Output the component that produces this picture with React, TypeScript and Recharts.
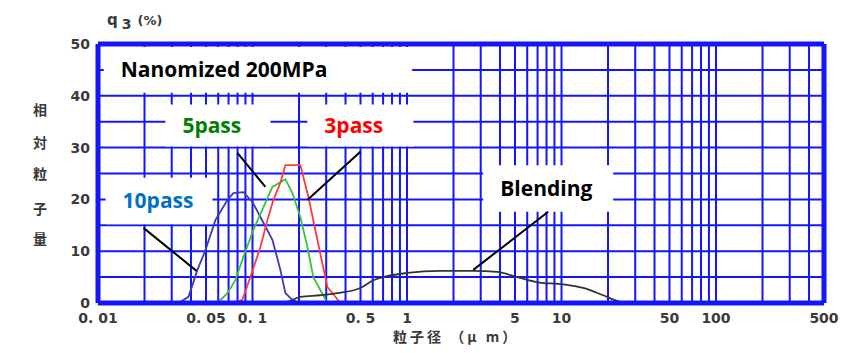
import React from 'react';
import {
    LineChart,
    Line,
    XAxis,
    YAxis,
    ReferenceLine,
    ReferenceArea,
} from 'recharts';

// particle size (µm) / q3 (%)
const tenPassSize = [0.0332, 0.0385, 0.0409, 0.044, 0.0496, 0.0575, 0.0688, 0.0752, 0.0873, 0.0999, 0.1125, 0.1345, 0.1515, 0.1633, 0.1812, 0.2];
const tenPassQ = [0, 1.2, 3.5, 6.4, 10.2, 16.0, 19.9, 21.2, 21.4, 19.5, 16.6, 12.2, 6.4, 1.9, 0.6, 0];

const fivePassSize = [0.0332, 0.0593, 0.0688, 0.0775, 0.0873, 0.1013, 0.1177, 0.1345, 0.1633, 0.1812, 0.2041, 0.2265, 0.2477, 0.2749, 0.3051];
const fivePassQ = [0, 0, 1.9, 4.4, 8.9, 14.1, 18.5, 22.4, 23.9, 21.2, 16.6, 10.8, 5.0, 2.5, 0];

const threePassSize = [0.0593, 0.075, 0.086, 0.0969, 0.1125, 0.1249, 0.1365, 0.1515, 0.1633, 0.2041, 0.23, 0.2629, 0.3051, 0.3703];
const threePassQ = [0, 0, 0.6, 5.0, 10.8, 16.0, 19.9, 23.2, 26.6, 26.6, 20.5, 12.2, 3.1, 0];

const blendSize = [0.06, 0.15, 0.1682, 0.2041, 0.2749, 0.3541, 0.4989, 0.6053, 0.7025, 1.004, 1.642, 2.685, 3.838, 5.17, 6.96, 10.26, 13.82, 18.6, 23.97, 26];
const blendQ = [0, 0, 0.2, 1.2, 1.5, 1.9, 2.9, 4.4, 5.0, 5.8, 6.2, 6.2, 6.0, 5.0, 4.0, 3.6, 2.9, 1.5, 0.2, 0];

const xTicks = [0.01, 0.05, 0.1, 0.5, 1, 5, 10, 50, 100, 500];
const xTickLabels = ['0. 01', '0. 05', '0. 1', '0. 5', '1', '5', '10', '50', '100', '500'];
const yTicks = [0, 10, 20, 30, 40, 50];

// log grid: every 1..9 step inside each decade
const decades = [0.01, 0.1, 1, 10, 100];
const gridX = decades
    .flatMap((d) => [1, 2, 3, 4, 5, 6, 7, 8, 9].map((m) => +(d * m).toPrecision(3)))
    .filter((v) => v > 0.01 && v < 500);
const gridY = [5, 10, 15, 20, 25, 30, 35, 40, 45];

// callout boxes + leader lines
const callouts = [
    { text: 'Nanomized 200MPa', color: '#000000', x1: 0.0109, x2: 1.08, y1: 40.6, y2: 49.4, from: null, to: null },
    { text: '5pass', color: '#008000', x1: 0.0273, x2: 0.1306, y1: 30.2, y2: 38.3, from: [0.0798, 29.0], to: [0.1212, 22.4] },
    { text: '3pass', color: '#ff0000', x1: 0.2265, x2: 1.1, y1: 30.2, y2: 38.3, from: [0.4989, 29.2], to: [0.2265, 19.9] },
    { text: '10pass', color: '#0070c0', x1: 0.0112, x2: 0.0551, y1: 15.2, y2: 24.2, from: [0.0197, 14.5], to: [0.0434, 6.2] },
    { text: 'Blending', color: '#000000', x1: 3.115, x2: 21.6, y1: 17.6, y2: 26.6, from: [8.2, 17.6], to: [2.685, 6.4] },
];

const zip = (xs: number[], ys: number[]) => xs.map((x, i) => ({ x, q: ys[i] }));

const series = [
    { name: '10pass', data: zip(tenPassSize, tenPassQ), color: '#3c3cb4', type: 'linear' },
    { name: '5pass', data: zip(fivePassSize, fivePassQ), color: '#3cc03c', type: 'linear' },
    { name: '3pass', data: zip(threePassSize, threePassQ), color: '#ff3c3c', type: 'linear' },
    { name: 'Blending', data: zip(blendSize, blendQ), color: '#333333', type: 'monotone' },
];

const BLUE = '#1414ff';
const tickStyle = { fontFamily: 'DejaVu Sans', fontWeight: 700, fontSize: 14, fill: '#3a3a3a' };
const yTitle = ['相', '対', '粒', '子', '量'];
const yTitleTop = [100, 133, 164, 199, 229];

export default function App() {
    return (
        <div style={{ position: 'relative', width: 845, height: 337, fontFamily: 'DejaVu Sans' }}>
            <LineChart width={845} height={337} margin={{ top: 36, right: 29, bottom: 12, left: 50 }}>
                <XAxis
                    dataKey="x"
                    type="number"
                    scale="log"
                    domain={[0.01, 500]}
                    ticks={xTicks}
                    allowDataOverflow
                    height={30}
                    axisLine={false}
                    tickLine={false}
                    tickSize={8}
                    tickMargin={2}
                    tick={tickStyle}
                    tickFormatter={(v: number) => xTickLabels[xTicks.indexOf(v)] ?? String(v)}
                    interval={0}
                />
                <YAxis
                    dataKey="q"
                    type="number"
                    domain={[0, 50]}
                    ticks={yTicks}
                    width={40}
                    axisLine={false}
                    tickLine={false}
                    tickSize={6}
                    tickMargin={2}
                    tick={tickStyle}
                    interval={0}
                />
                {gridX.map((v) => (
                    <ReferenceLine key={'gx' + v} x={v} stroke={BLUE} strokeWidth={2} zIndex={-50} />
                ))}
                {gridY.map((v) => (
                    <ReferenceLine key={'gy' + v} y={v} stroke={BLUE} strokeWidth={2} zIndex={-50} />
                ))}
                {series.map((s) => (
                    <Line
                        key={s.name}
                        data={s.data}
                        dataKey="q"
                        type={s.type as any}
                        stroke={s.color}
                        strokeWidth={1.8}
                        dot={false}
                        isAnimationActive={false}
                    />
                ))}
                {callouts.map((c) => (
                    <ReferenceArea
                        key={'box' + c.text}
                        x1={c.x1}
                        x2={c.x2}
                        y1={c.y1}
                        y2={c.y2}
                        fill="#ffffff"
                        fillOpacity={1}
                        stroke="none"
                        zIndex={450}
                        label={{
                            value: c.text,
                            position: 'insideLeft',
                            offset: 17,
                            fill: c.color,
                            fontFamily: 'Open Sans',
                            fontWeight: 700,
                            fontSize: 21,
                        }}
                    />
                ))}
                {callouts
                    .filter((c) => c.from)
                    .map((c) => (
                        <ReferenceLine
                            key={'lead' + c.text}
                            segment={[
                                { x: c.from![0], y: c.from![1] },
                                { x: c.to![0], y: c.to![1] },
                            ]}
                            stroke="#000000"
                            strokeWidth={2}
                            zIndex={460}
                        />
                    ))}
                {/* frame */}
                <ReferenceLine x={0.01} stroke={BLUE} strokeWidth={5} zIndex={700} />
                <ReferenceLine x={500} stroke={BLUE} strokeWidth={5} zIndex={700} />
                <ReferenceLine y={0} stroke={BLUE} strokeWidth={5} zIndex={700} />
                <ReferenceLine y={50} stroke={BLUE} strokeWidth={5} zIndex={700} />
            </LineChart>

            <div style={{ position: 'absolute', left: 99, top: 2, color: '#3a3a3a', fontWeight: 700, whiteSpace: 'nowrap' }}>
                <span style={{ fontSize: 15 }}>q</span>
                <span style={{ fontSize: 14, position: 'relative', top: 4, marginLeft: 4 }}>3</span>
                <span style={{ fontSize: 13, marginLeft: 6 }}>(%)</span>
            </div>
            {yTitle.map((ch, i) => (
                <div
                    key={ch}
                    style={{
                        position: 'absolute',
                        left: 24,
                        width: 16,
                        top: yTitleTop[i] - 9,
                        textAlign: 'center',
                        fontFamily: 'Noto Sans CJK JP',
                        fontWeight: 700,
                        fontSize: 14,
                        color: '#3a3a3a',
                    }}
                >
                    {ch}
                </div>
            ))}
            <div
                style={{
                    position: 'absolute',
                    left: 385,
                    top: 319,
                    lineHeight: '18px',
                    fontFamily: 'Noto Sans CJK JP',
                    fontWeight: 700,
                    fontSize: 14,
                    color: '#3a3a3a',
                    whiteSpace: 'nowrap',
                    letterSpacing: 3,
                }}
            >
                粒子径 （μ m）
            </div>
        </div>
    );
}
